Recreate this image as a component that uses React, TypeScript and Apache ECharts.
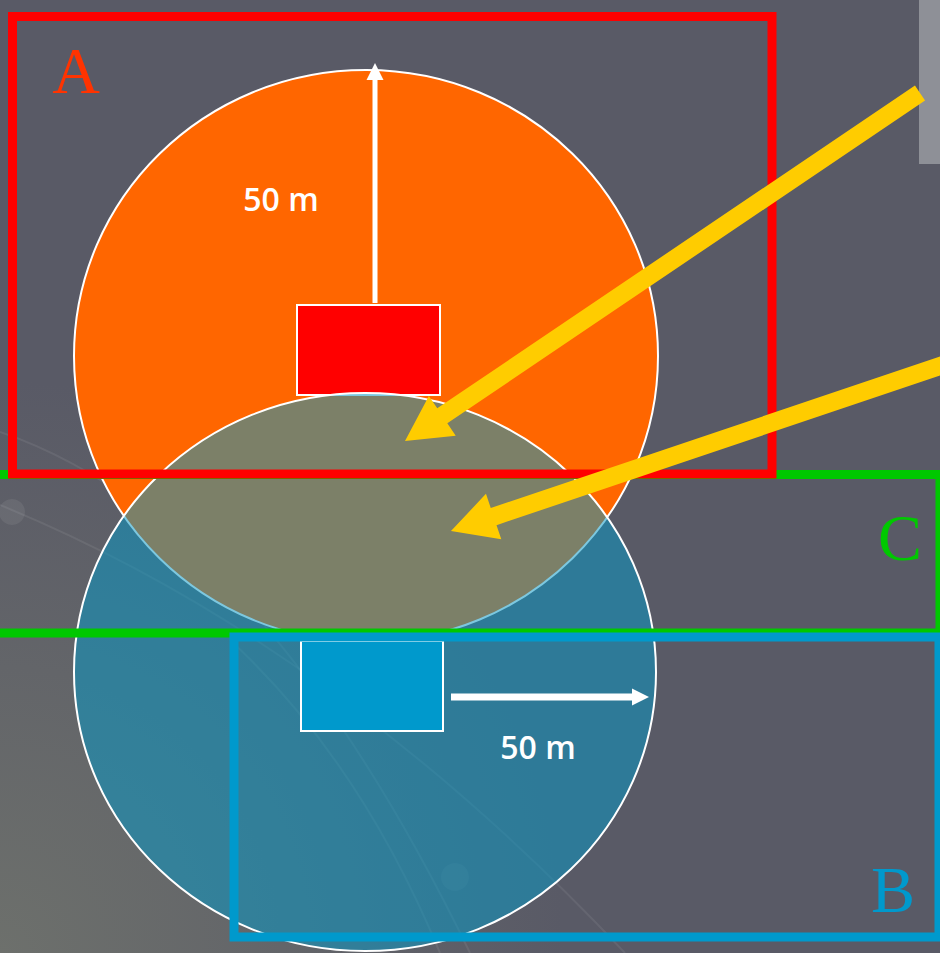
import React, { useEffect, useRef } from "react";
import * as echarts from "echarts";

// ---- diagram data (pixel geometry of the reference) ----
const zoneLabels = ["A", "B", "C"];
const zoneColors = ["#ff3300", "#0099cc", "#00c800"];
const zoneLabelPos = [[76, 70], [893, 889], [900, 537]];
// frames: [x, y, w, h] (stroke centre lines)
const frameRects = [
  [12.5, 16.5, 759.5, 457.5], // A
  [234, 637, 705, 300], // B
  [-20, 474.5, 960, 158.5], // C
];
const frameColors = ["#ff0000", "#0099cc", "#00c800"];
const frameWidth = 9;

// coverage areas: [cx, cy, rx, ry]
const areaEllipses = [
  [366, 356, 292, 286],
  [365, 672, 291, 279],
];
const areaFills = ["#ff6600", "rgba(8,151,196,0.53)"];

// station boxes: [x, y, w, h]
const stationRects = [
  [297, 305, 143, 90],
  [301, 641, 142, 90],
];
const stationFills = ["#ff0000", "#0099cc"];

const radiusLabels = ["50 m", "50 m"];
const radiusLabelPos = [[281, 198], [538, 746]];

// white radius arrows: [tail, tip]
const radiusArrows = [
  [[375, 303], [375, 63]],
  [[451, 697], [649, 697]],
];
const radiusArrowWidths = [5, 7];

// yellow pointer arrows: [tail, tip]
const pointerArrows = [
  [[920, 93], [405, 441]],
  [[946, 364], [451, 531]],
];

function arrowPoints(tail: number[], tip: number[], shaftW: number, headLen: number, headHalf: number) {
  const dx = tip[0] - tail[0];
  const dy = tip[1] - tail[1];
  const L = Math.hypot(dx, dy);
  const ux = dx / L, uy = dy / L;
  const nx = -uy, ny = ux;
  const bx = tip[0] - ux * headLen, by = tip[1] - uy * headLen;
  const s = shaftW / 2;
  return [
    [tail[0] + nx * s, tail[1] + ny * s],
    [bx + nx * s, by + ny * s],
    [bx + nx * headHalf, by + ny * headHalf],
    [tip[0], tip[1]],
    [bx - nx * headHalf, by - ny * headHalf],
    [bx - nx * s, by - ny * s],
    [tail[0] - nx * s, tail[1] - ny * s],
  ];
}

export default function App() {
  const ref = useRef<HTMLDivElement>(null);
  useEffect(() => {
    document.body.style.margin = "0";
    const chart = echarts.init(ref.current!, null, { renderer: "svg" });
    const els: any[] = [];
    // background
    els.push({
      type: "rect",
      shape: { x: 0, y: 0, width: 940, height: 953 },
      style: {
        fill: new echarts.graphic.RadialGradient(0, 1, 0.6, [
          { offset: 0, color: "#6d706c" },
          { offset: 1, color: "#595a66" },
        ]),
      },
    });
    // faint decorative orbit lines
    const decoCurves = [
      [[0, 432], [260, 520], [470, 953]],
      [[0, 505], [330, 640], [625, 953]],
      [[230, 640], [360, 760], [440, 953]],
    ];
    decoCurves.forEach((c) =>
      els.push({
        type: "bezierCurve",
        shape: { x1: c[0][0], y1: c[0][1], cpx1: c[1][0], cpy1: c[1][1], x2: c[2][0], y2: c[2][1] },
        style: { stroke: "rgba(255,255,255,0.07)", lineWidth: 2, fill: "none" },
      })
    );
    els.push({ type: "circle", shape: { cx: 12, cy: 512, r: 13 }, style: { fill: "rgba(255,255,255,0.07)" } });
    els.push({ type: "circle", shape: { cx: 455, cy: 877, r: 14 }, style: { fill: "rgba(255,255,255,0.05)" } });

    const drawStation = (i: number) => {
      const e = areaEllipses[i];
      els.push({
        type: "ellipse",
        shape: { cx: e[0], cy: e[1], rx: e[2], ry: e[3] },
        style: { fill: areaFills[i], stroke: "#ffffff", lineWidth: 2 },
      });
      const r = stationRects[i];
      els.push({
        type: "rect",
        shape: { x: r[0], y: r[1], width: r[2], height: r[3] },
        style: { fill: stationFills[i], stroke: "#ffffff", lineWidth: 2 },
      });
      const [tail, tip] = radiusArrows[i];
      const w = radiusArrowWidths[i];
      els.push({
        type: "polygon",
        shape: { points: arrowPoints(tail, tip, w, 17, 8.5) },
        style: { fill: "#ffffff" },
      });
      const p = radiusLabelPos[i];
      els.push({
        type: "text",
        x: p[0],
        y: p[1],
        style: {
          text: radiusLabels[i],
          fill: "#ffffff",
          font: "600 32px 'Open Sans'",
          textAlign: "center",
          textVerticalAlign: "middle",
        },
      });
    };
    drawStation(0);
    drawStation(1);

    // frames: C, B, A order
    [2, 1, 0].forEach((i) => {
      const f = frameRects[i];
      els.push({
        type: "rect",
        shape: { x: f[0], y: f[1], width: f[2], height: f[3] },
        style: { fill: "none", stroke: frameColors[i], lineWidth: frameWidth },
      });
    });

    // gray bar top right
    els.push({ type: "rect", shape: { x: 919, y: 0, width: 21, height: 164 }, style: { fill: "#8e9097" } });

    // yellow pointer arrows
    pointerArrows.forEach(([tail, tip]) =>
      els.push({
        type: "polygon",
        shape: { points: arrowPoints(tail, tip, 18, 45, 24) },
        style: { fill: "#ffcc00" },
      })
    );

    // zone letters
    zoneLabels.forEach((l, i) =>
      els.push({
        type: "text",
        x: zoneLabelPos[i][0],
        y: zoneLabelPos[i][1],
        style: {
          text: l,
          fill: zoneColors[i],
          font: "66px 'Liberation Serif'",
          textAlign: "center",
          textVerticalAlign: "middle",
        },
      })
    );

    chart.setOption({ animation: false, graphic: { elements: els } });
    return () => chart.dispose();
  }, []);
  return <div ref={ref} style={{ width: 940, height: 953, position: "absolute", left: 0, top: 0 }} />;
}
